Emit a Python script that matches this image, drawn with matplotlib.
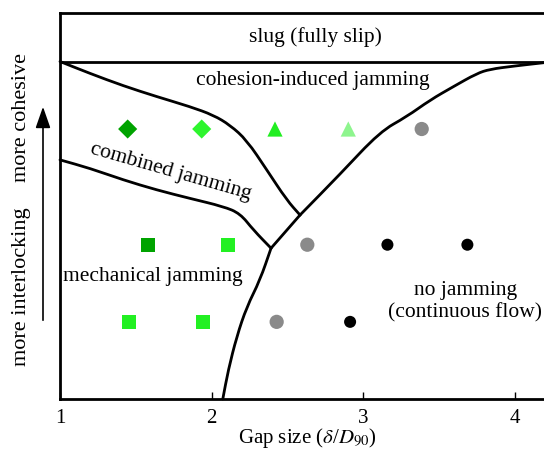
import matplotlib
matplotlib.use("Agg")
import matplotlib.pyplot as plt
from matplotlib.path import Path
from matplotlib.patches import PathPatch, FancyArrowPatch

plt.rcParams['font.family'] = ['Liberation Serif', 'DejaVu Serif']
plt.rcParams['mathtext.fontset'] = 'stix'

# ---- data ----
xticks = [1, 2, 3, 4]
xtick_labels = ["1", "2", "3", "4"]

slug_y = 0.875

# boundary: cohesion-induced jamming (left/lower edge)
cohesion_x = [1.0, 1.198, 1.417, 1.637, 1.857, 2.011, 2.121, 2.231, 2.363, 2.494, 2.582]
cohesion_y = [0.875, 0.844, 0.812, 0.784, 0.758, 0.736, 0.710, 0.671, 0.594, 0.516, 0.477]

# boundary: combined / mechanical jamming
combined_x = [1.0, 1.198, 1.417, 1.637, 1.857, 2.077, 2.187, 2.275, 2.391]
combined_y = [0.620, 0.598, 0.568, 0.542, 0.520, 0.499, 0.481, 0.438, 0.391]

# boundary: no jamming, lower part (bottom -> lower junction)
flow_low_x = [2.073, 2.109, 2.165, 2.231, 2.318, 2.391]
flow_low_y = [0.0, 0.075, 0.162, 0.239, 0.308, 0.391]
# junction segment
flow_mid_x = [2.391, 2.582]
flow_mid_y = [0.391, 0.477]
# upper part (upper junction -> top right)
flow_up_x = [2.582, 2.846, 3.109, 3.285, 3.439, 3.593, 3.747, 3.834, 3.988, 4.190]
flow_up_y = [0.477, 0.583, 0.693, 0.732, 0.775, 0.810, 0.844, 0.855, 0.863, 0.872]

# markers
diamond_x = [1.446, 1.934]
diamond_y = [0.70, 0.70]
diamond_c = ['#00a300', '#2ef52e']

triangle_x = [2.417, 2.900]
triangle_y = [0.70, 0.70]
triangle_c = ['#22ee22', '#8ef58e']

square_x = [1.578, 2.105, 1.455, 1.941]
square_y = [0.40, 0.40, 0.20, 0.20]
square_c = ['#00a300', '#22f022', '#22f022', '#22f022']

gray_x = [3.384, 2.630, 2.428]
gray_y = [0.70, 0.40, 0.20]

black_x = [3.158, 3.685, 2.912]
black_y = [0.40, 0.40, 0.20]


def smooth_path(xs, ys):
    """Quadratic-Bezier path through midpoints, using the read points as controls."""
    pts = list(zip(xs, ys))
    if len(pts) < 3:
        return Path(pts, [Path.MOVETO] + [Path.LINETO] * (len(pts) - 1))
    verts = [pts[0]]
    codes = [Path.MOVETO]
    mids = [((pts[i][0] + pts[i + 1][0]) / 2, (pts[i][1] + pts[i + 1][1]) / 2)
            for i in range(len(pts) - 1)]
    verts.append(mids[0]); codes.append(Path.LINETO)
    for i in range(1, len(pts) - 1):
        verts += [pts[i], mids[i]]
        codes += [Path.CURVE3, Path.CURVE3]
    verts.append(pts[-1]); codes.append(Path.LINETO)
    return Path(verts, codes)


# ---- figure ----
fig = plt.figure(figsize=(5.44, 4.50), dpi=100)
ax = fig.add_axes([60/544, 1 - 399/450, 1 - 60/544, (399 - 13.3)/450])
ax.set_xlim(1, 4.19)
ax.set_ylim(0, 1)

for s in ['left', 'bottom', 'top']:
    ax.spines[s].set_linewidth(2.0)
ax.spines['right'].set_visible(False)

ax.set_xticks(xticks)
ax.set_xticklabels(xtick_labels, fontsize=15)
ax.tick_params(axis='x', direction='in', length=5, width=1.0, pad=7)
ax.set_yticks([])
ax.set_xlabel(r"Gap size ($\delta$/$D_{90}$)", fontsize=15, labelpad=0)
ax.xaxis.set_label_coords(0.51, -0.071)

lw = 2.0
ax.axhline(slug_y, color='black', lw=lw)
for xs, ys in [(cohesion_x, cohesion_y), (combined_x, combined_y),
               (flow_low_x, flow_low_y), (flow_mid_x, flow_mid_y), (flow_up_x, flow_up_y)]:
    ax.add_patch(PathPatch(smooth_path(xs, ys), facecolor='none', edgecolor='black',
                           lw=lw, capstyle='round', joinstyle='round', clip_on=False))

ax.scatter(diamond_x, diamond_y, marker='D', s=95, c=diamond_c, edgecolors='none', zorder=3)
ax.scatter(triangle_x, triangle_y, marker='^', s=120, c=triangle_c, edgecolors='none', zorder=3)
ax.scatter(square_x, square_y, marker='s', s=105, c=square_c, edgecolors='none', zorder=3)
ax.scatter(gray_x, gray_y, marker='o', s=105, c='#8a8a8a', edgecolors='none', zorder=3)
ax.scatter(black_x, black_y, marker='o', s=75, c='black', edgecolors='none', zorder=3)

fs = 15.5
ax.text(2.684, 0.939, "slug (fully slip)", ha='center', va='center', fontsize=fs)
ax.text(2.664, 0.827, "cohesion-induced jamming", ha='center', va='center', fontsize=fs)
ax.text(1.730, 0.590, "combined jamming", ha='center', va='center', fontsize=fs, rotation=-16)
ax.text(1.612, 0.317, "mechanical jamming", ha='center', va='center', fontsize=fs)
ax.text(3.670, 0.252, "no jamming\n(continuous flow)", ha='center', va='center', fontsize=fs,
        linespacing=1.2)

# side annotations
fig.text(22/544, 1 - 287/450, "more interlocking", rotation=90, ha='center', va='center', fontsize=16)
fig.text(22/544, 1 - 118/450, "more cohesive", rotation=90, ha='center', va='center', fontsize=16)
fig.patches.append(FancyArrowPatch(
    (43/544, 1 - 323/450), (43/544, 1 - 104/450), transform=fig.transFigure,
    arrowstyle='-|>,head_length=1.0,head_width=0.35', mutation_scale=13,
    color='black', lw=1.2))

fig.savefig("out.png", dpi=100)
